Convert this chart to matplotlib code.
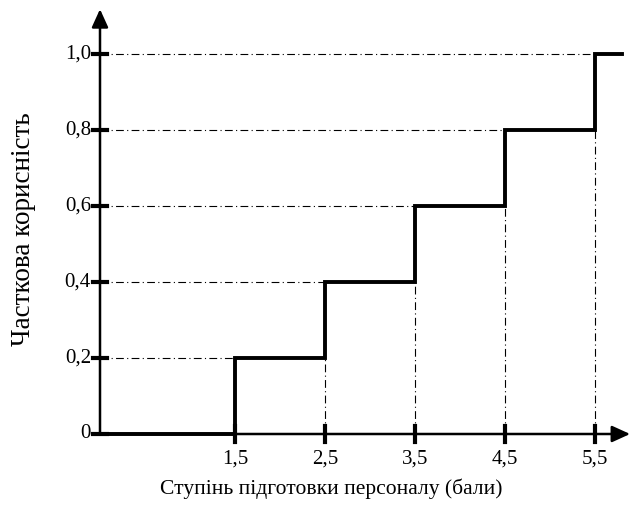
import numpy as np
import matplotlib
matplotlib.use("Agg")
from matplotlib import pyplot as plt

plt.rcParams['font.family'] = ['Liberation Serif', 'DejaVu Serif']

# step data
x_steps = [0, 1.5, 2.5, 3.5, 4.5, 5.5, 5.8]
y_steps = [0, 0.2, 0.4, 0.6, 0.8, 1.0, 1.0]
x_ticks = [1.5, 2.5, 3.5, 4.5, 5.5]
x_labels = ['1,5', '2,5', '3,5', '4,5', '5,5']
y_ticks = [0, 0.2, 0.4, 0.6, 0.8, 1.0]
y_labels = ['0', '0,2', '0,4', '0,6', '0,8', '1,0']
xlabel = 'Ступінь підготовки персоналу (бали)'
ylabel = 'Часткова корисність'

W, H = 644, 508
fig = plt.figure(figsize=(W / 100, H / 100), dpi=100)
# axes: origin at px (100, 434), top-right at (640, 8)
ax = fig.add_axes([100 / W, (H - 434) / H, 540 / W, 426 / H])
ax.set_xlim(0, 6.0)
ax.set_ylim(0, 426 / 380)
ax.axis('off')

# guide lines (dash-dot)
for xs, ys in zip(x_steps[1:-1], y_steps[1:-1]):
    ax.plot([0, xs], [ys, ys], color='black', lw=0.8, dashes=(7, 3, 1, 3))
for i in range(2, 6):
    ax.plot([x_steps[i], x_steps[i]], [0, y_steps[i - 1]], color='black', lw=0.8,
            dashes=(7, 3, 1, 3))

# axes with arrows
arr = dict(arrowstyle='-|>,head_length=1.1,head_width=0.5', color='black', lw=1.8,
           shrinkA=0, shrinkB=0)
ax.annotate('', xy=(5.89, 0), xytext=(0, 0), arrowprops=arr)
ax.annotate('', xy=(0, 1.118), xytext=(0, 0), arrowprops=arr)

# step function
ax.step(x_steps, y_steps, where='post', color='black', lw=2.8, solid_joinstyle='miter')

# ticks
for xt, lab in zip(x_ticks, x_labels):
    ax.plot([xt, xt], [-0.02, 0.02], color='black', lw=3)
    ax.text(xt, -0.042, lab, ha='center', va='top', fontsize=15)
for yt, lab in zip(y_ticks, y_labels):
    ax.plot([-0.08, 0.08], [yt, yt], color='black', lw=3)
    ax.text(-0.1, yt, lab, ha='right', va='center', fontsize=15)

for art in ax.lines:
    art.set_clip_on(False)

fig.text(331 / W, 1 - 489 / H, xlabel, ha='center', va='center', fontsize=15.5)
fig.text(24 / W, 1 - 229 / H, ylabel, ha='center', va='center', rotation=90, fontsize=19.5)

fig.savefig('out.png', dpi=100)
